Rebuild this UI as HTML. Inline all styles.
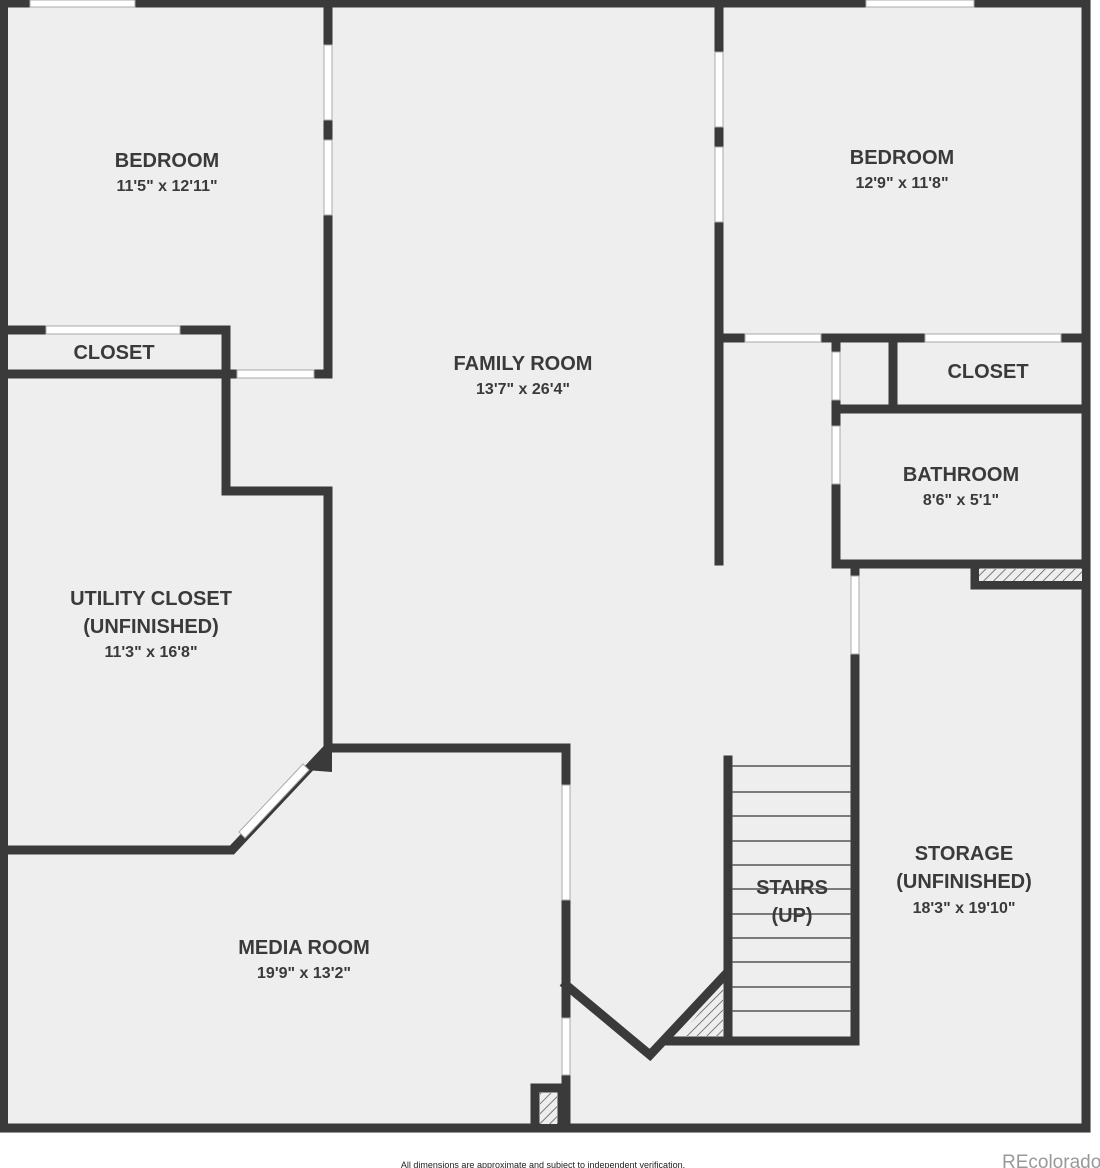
<!DOCTYPE html>
<html><head><meta charset="utf-8"><style>
html,body{margin:0;padding:0;background:#fff;}
svg{display:block;}
text{font-family:"Liberation Sans",sans-serif;fill:#3a3a3a;text-anchor:middle;font-weight:bold;}
.n{font-size:20px;}
.d{font-size:16px;}
</style></head><body>
<svg width="1100" height="1168" viewBox="0 0 1100 1168" xmlns="http://www.w3.org/2000/svg">
<defs>
<pattern id="h" width="7" height="7" patternUnits="userSpaceOnUse" patternTransform="rotate(45)">
<rect width="7" height="7" fill="#eee"/><line x1="0" y1="0" x2="0" y2="7" stroke="#555" stroke-width="1.5"/>
</pattern>
</defs>
<rect x="0" y="0" width="1091" height="1133" fill="#eeeeee"/>
<g stroke="#3a3a3a" stroke-width="9" fill="none" stroke-linecap="square" stroke-linejoin="miter">
<!-- outer -->
<line x1="0" y1="3" x2="1086" y2="3"/>
<line x1="3.5" y1="0" x2="3.5" y2="1128"/>
<line x1="1086" y1="0" x2="1086" y2="1128"/>
<line x1="0" y1="1128" x2="1086" y2="1128"/>
<!-- left bedroom -->
<line x1="328" y1="3" x2="328" y2="374"/>
<line x1="3" y1="330" x2="226" y2="330"/>
<line x1="3" y1="374" x2="328" y2="374"/>
<!-- utility -->
<polyline points="226,330 226,491 328,491 328,748 232,850 3,850"/>
<!-- media -->
<polyline points="328,748 566,748 566,1128"/>
<polyline points="566,985 650,1055 725,975"/>
<line x1="668" y1="1041" x2="855" y2="1041"/>
<line x1="728" y1="760" x2="728" y2="1041"/>
<line x1="855" y1="568" x2="855" y2="1041"/>
<rect x="535" y="1088" width="27" height="40"/>
<!-- right -->
<line x1="719" y1="3" x2="719" y2="561"/>
<line x1="719" y1="338" x2="1086" y2="338"/>
<line x1="836" y1="338" x2="836" y2="564"/>
<line x1="893" y1="338" x2="893" y2="408"/>
<line x1="836" y1="409" x2="1086" y2="409"/>
<line x1="836" y1="564" x2="1086" y2="564"/>
<line x1="975" y1="564" x2="975" y2="585"/>
<line x1="975" y1="585" x2="1086" y2="585"/>
</g>
<!-- corner fill -->
<polygon points="305,770 332,772 332,744" fill="#3a3a3a"/>
<!-- hatches -->
<rect x="979" y="569" width="103" height="12" fill="url(#h)"/>
<polygon points="680,1036 723,985 723,1036" fill="url(#h)"/>
<rect x="540" y="1093" width="17" height="31" fill="url(#h)"/>
<!-- stair treads -->
<g stroke="#555" stroke-width="1.5">
<line x1="732" y1="766" x2="851" y2="766"/><line x1="732" y1="792" x2="851" y2="792"/>
<line x1="732" y1="816" x2="851" y2="816"/><line x1="732" y1="841" x2="851" y2="841"/>
<line x1="732" y1="865" x2="851" y2="865"/><line x1="732" y1="889" x2="851" y2="889"/>
<line x1="732" y1="914" x2="851" y2="914"/><line x1="732" y1="938" x2="851" y2="938"/>
<line x1="732" y1="962" x2="851" y2="962"/><line x1="732" y1="987" x2="851" y2="987"/>
<line x1="732" y1="1011" x2="851" y2="1011"/>
</g>
<!-- windows/doors (white openings) -->
<g fill="#fff" stroke="#aaa" stroke-width="1">
<rect x="30" y="0" width="105" height="7"/>
<rect x="866" y="0" width="108" height="7"/>
<rect x="324" y="45" width="8" height="75"/>
<rect x="324" y="140" width="8" height="75"/>
<rect x="715" y="52" width="8" height="75"/>
<rect x="715" y="147" width="8" height="75"/>
<rect x="46" y="326" width="134" height="8"/>
<rect x="237" y="370" width="77" height="8"/>
<rect x="745" y="334" width="76" height="8"/>
<rect x="925" y="334" width="136" height="8"/>
<rect x="832" y="352" width="8" height="48"/>
<rect x="832" y="426" width="8" height="58"/>
<rect x="851" y="576" width="8" height="78"/>
<rect x="562" y="785" width="8" height="115"/>
<rect x="562" y="1018" width="8" height="57"/>
</g>
<polygon points="303,764 309,770 245,838 239,832" fill="#fff" stroke="#aaa" stroke-width="1"/>
<!-- labels -->
<text class="n" x="167" y="167">BEDROOM</text><text class="d" x="167" y="191">11'5" x 12'11"</text>
<text class="n" x="902" y="164">BEDROOM</text><text class="d" x="902" y="188">12'9" x 11'8"</text>
<text class="n" x="114" y="359">CLOSET</text>
<text class="n" x="988" y="378">CLOSET</text>
<text class="n" x="523" y="370">FAMILY ROOM</text><text class="d" x="523" y="394">13'7" x 26'4"</text>
<text class="n" x="961" y="481">BATHROOM</text><text class="d" x="961" y="505">8'6" x 5'1"</text>
<text class="n" x="151" y="605">UTILITY CLOSET</text><text class="n" x="151" y="633">(UNFINISHED)</text><text class="d" x="151" y="657">11'3" x 16'8"</text>
<text class="n" x="964" y="860">STORAGE</text><text class="n" x="964" y="888">(UNFINISHED)</text><text class="d" x="964" y="913">18'3" x 19'10"</text>
<text class="n" x="792" y="894">STAIRS</text><text class="n" x="792" y="922">(UP)</text>
<text class="n" x="304" y="954">MEDIA ROOM</text><text class="d" x="304" y="978">19'9" x 13'2"</text>
<text x="543" y="1168" style="font-size:9px;font-weight:normal;fill:#222">All dimensions are approximate and subject to independent verification.</text>
<text x="1002" y="1168" style="font-size:19px;font-weight:normal;fill:#999;text-anchor:start">REcolorado</text>
</svg>
</body></html>
